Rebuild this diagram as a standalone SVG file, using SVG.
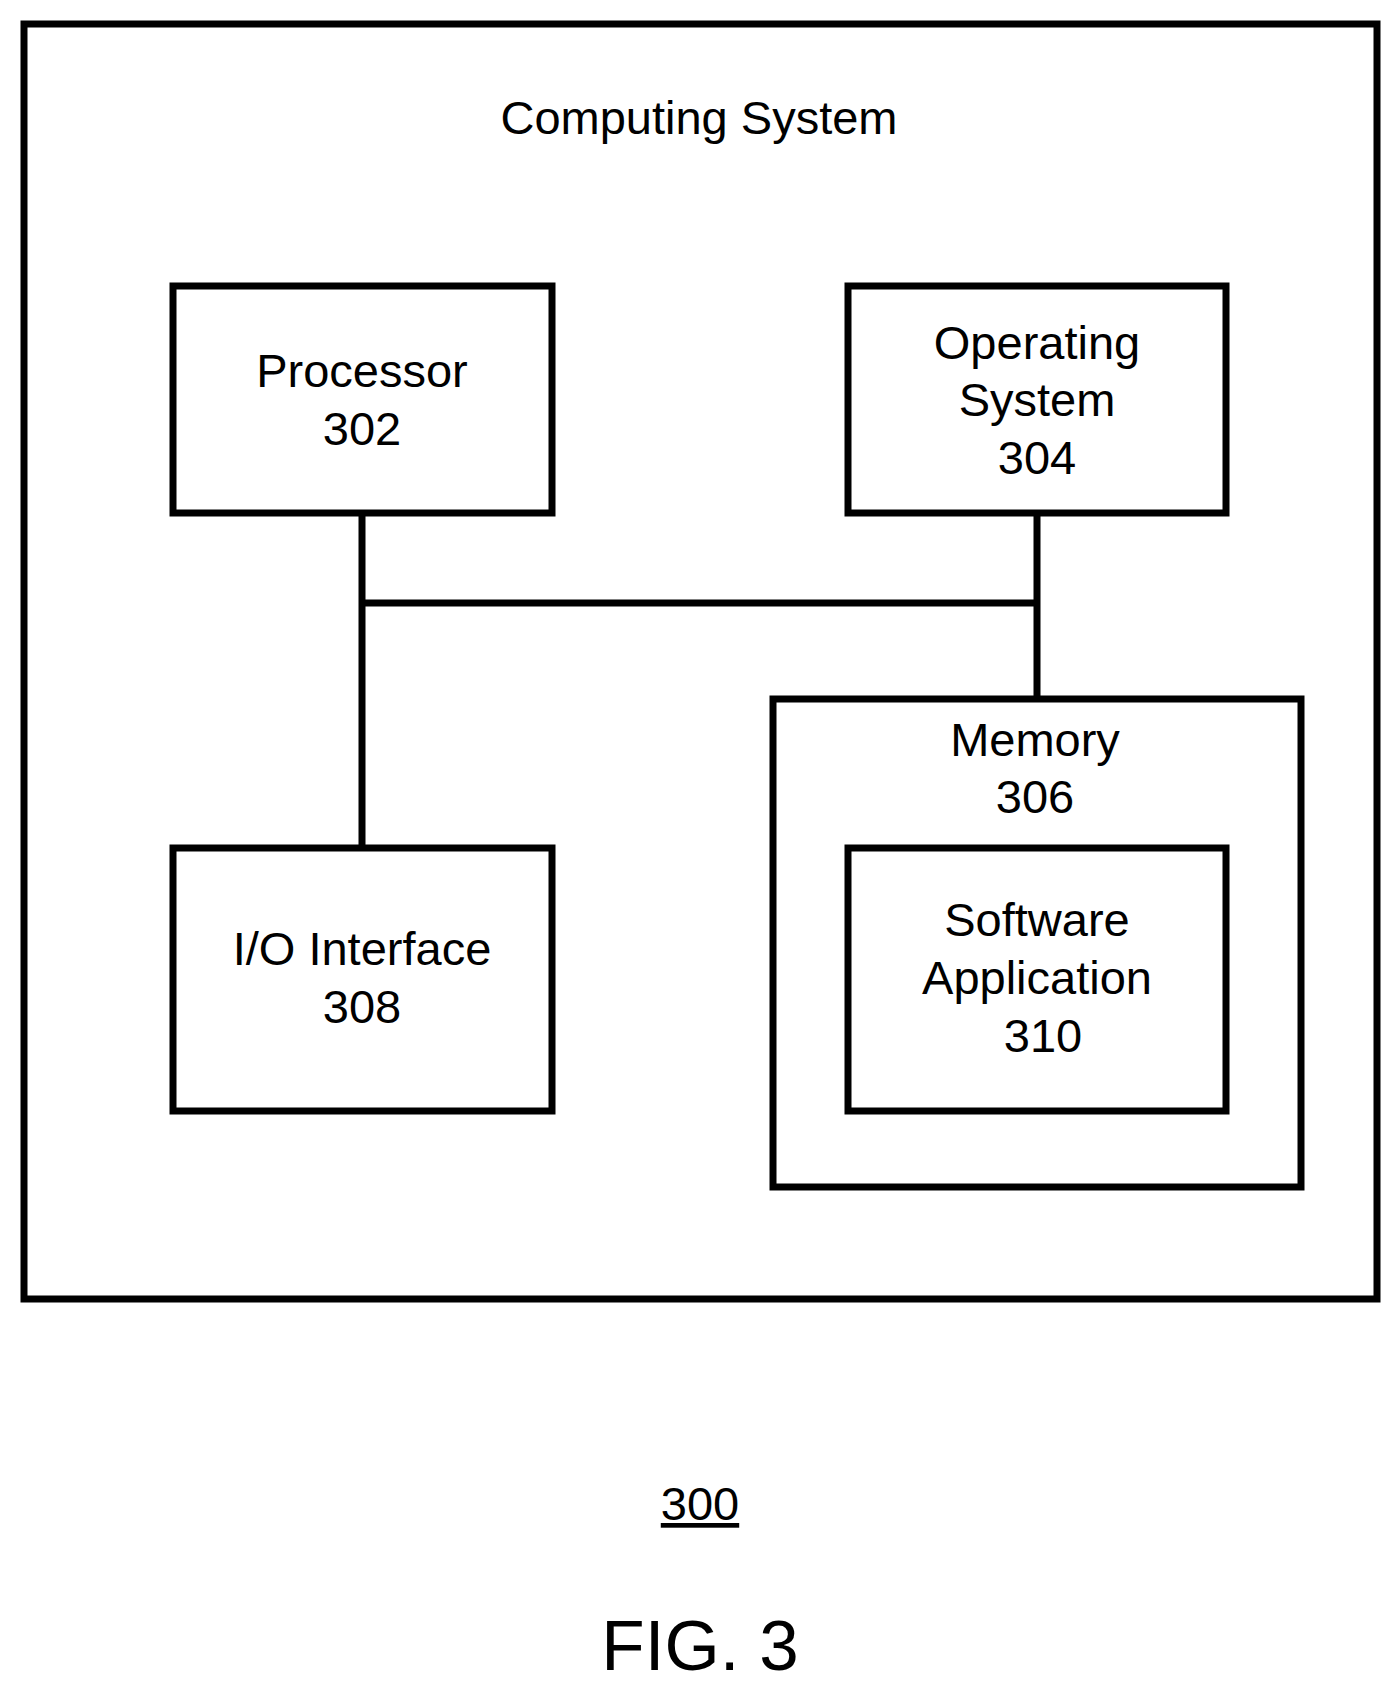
<svg xmlns="http://www.w3.org/2000/svg" width="1400" height="1694" viewBox="0 0 1400 1694">
<style>
.b{fill:none;stroke:#000;stroke-width:7}
.t{font-family:"Liberation Sans",Arial,sans-serif;font-size:47px;text-anchor:middle;fill:#000}
</style>
<rect width="1400" height="1694" fill="#fff"/>
<g id="computing-system"><rect class="b" x="24" y="24" width="1353" height="1275"/><text class="t" x="699" y="134">Computing System</text></g>
<g id="connectors"><path class="b" d="M362 513V848M362 603H1037M1037 513V699"/></g>
<g id="processor"><rect class="b" x="173" y="286" width="379" height="227"/><text class="t" x="362" y="387">Processor</text><text class="t" x="362" y="445">302</text></g>
<g id="os"><rect class="b" x="848" y="286" width="378" height="227"/><text class="t" x="1037" y="359">Operating</text><text class="t" x="1037" y="416">System</text><text class="t" x="1037" y="474">304</text></g>
<g id="memory"><rect class="b" x="773" y="699" width="528" height="488"/><text class="t" x="1035" y="756">Memory</text><text class="t" x="1035" y="813">306</text></g>
<g id="software"><rect class="b" x="848" y="848" width="378" height="263"/><text class="t" x="1037" y="936">Software</text><text class="t" x="1037" y="994">Application</text><text class="t" x="1043" y="1052">310</text></g>
<g id="io"><rect class="b" x="173" y="848" width="379" height="263"/><text class="t" x="362" y="965">I/O Interface</text><text class="t" x="362" y="1023">308</text></g>
<g id="label"><text class="t" x="700" y="1520" text-decoration="underline">300</text><text class="t" x="700" y="1670" style="font-size:71px">FIG. 3</text></g>
</svg>
